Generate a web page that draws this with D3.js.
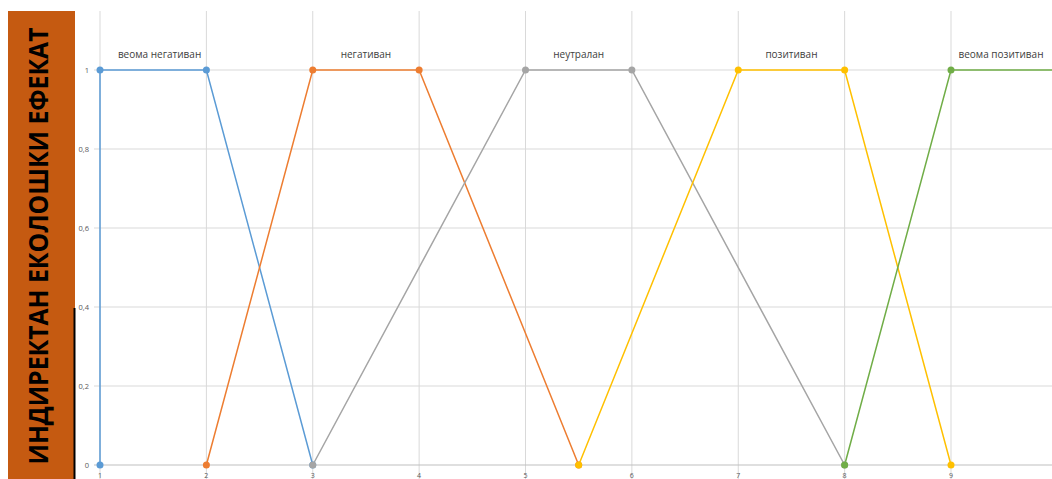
<!DOCTYPE html>
<html><head><meta charset="utf-8">
<script src="https://cdn.jsdelivr.net/npm/d3@7"></script>
<style>body{margin:0;background:#fff;overflow:hidden}svg{display:block}</style>
</head><body>
<svg id="c" width="1052" height="479"></svg>
<script>
const title = "ИНДИРЕКТАН ЕКОЛОШКИ ЕФЕКАТ";
const xTicks = [1,2,3,4,5,6,7,8,9];
const yTicks = [0,0.2,0.4,0.6,0.8,1];
const seriesNames = ["веома негативан","негативан","неутралан","позитиван","веома позитиван"];
const seriesColors = ["#5B9BD5","#ED7D31","#A5A5A5","#FFC000","#70AD47"];
const xVeomaNeg = [1,1,2,3], yVeomaNeg = [0,1,1,0];
const xNeg = [2,3,4,5.5], yNeg = [0,1,1,0];
const xNeut = [3,5,6,8], yNeut = [0,1,1,0];
const xPoz = [5.5,7,8,9], yPoz = [0,1,1,0];
const xVeomaPoz = [8,9,10], yVeomaPoz = [0,1,1];
const labelX = [1.56,3.5,5.5,7.5,9.47];

const svg = d3.select("#c");
const x = d3.scaleLinear().domain([1,9]).range([100,951]);
const y = d3.scaleLinear().domain([0,1]).range([465,70]);
const g = svg.append("g");

svg.append("defs").append("clipPath").attr("id","pc").append("rect")
  .attr("x",90).attr("y",11).attr("width",962).attr("height",468);

g.append("g").selectAll("line").data(yTicks.filter(d=>d>0)).join("line")
  .attr("x1",94).attr("x2",1052).attr("y1",d=>y(d)).attr("y2",d=>y(d))
  .attr("stroke","#d9d9d9").attr("stroke-width",1);
g.append("g").selectAll("line").data(xTicks).join("line")
  .attr("x1",d=>x(d)).attr("x2",d=>x(d)).attr("y1",11).attr("y2",479)
  .attr("stroke","#d9d9d9").attr("stroke-width",1);
g.append("line").attr("x1",94).attr("x2",1052).attr("y1",y(0)).attr("y2",y(0))
  .attr("stroke","#bfbfbf").attr("stroke-width",1.2);

g.append("g").selectAll("text").data(yTicks).join("text")
  .attr("x",89).attr("y",d=>y(d)+2.5).attr("text-anchor","end")
  .attr("font-family","Open Sans, sans-serif").attr("font-size",7.5).attr("fill","#595959")
  .text(d=>d===0?"0":d===1?"1":String(d).replace(".",","));
g.append("g").selectAll("text").data(xTicks).join("text")
  .attr("x",d=>x(d)).attr("y",478).attr("text-anchor","middle")
  .attr("font-family","Open Sans, sans-serif").attr("font-size",7).attr("fill","#595959")
  .text(d=>d);

const series = [
  [xVeomaNeg,yVeomaNeg],[xNeg,yNeg],[xNeut,yNeut],[xPoz,yPoz],[xVeomaPoz,yVeomaPoz]
].map((s,i)=>({pts:s[0].map((xv,j)=>[xv,s[1][j]]),color:seriesColors[i],name:seriesNames[i],lx:labelX[i]}));

const line = d3.line().x(d=>x(d[0])).y(d=>y(d[1]));
const plot = g.append("g").attr("clip-path","url(#pc)");
series.forEach(s=>{
  plot.append("path").attr("d",line(s.pts)).attr("fill","none")
    .attr("stroke",s.color).attr("stroke-width",1.5);
});
series.forEach(s=>{
  plot.append("g").selectAll("circle").data(s.pts).join("circle")
    .attr("cx",d=>x(d[0])).attr("cy",d=>y(d[1])).attr("r",3.5).attr("fill",s.color);
});
g.append("g").selectAll("text").data(series).join("text")
  .attr("x",d=>x(d.lx)).attr("y",y(1)-12).attr("text-anchor","middle")
  .attr("font-family","Open Sans, sans-serif").attr("font-size",10).attr("fill","#404040")
  .text(d=>d.name);

svg.append("rect").attr("x",8).attr("y",11).attr("width",67).attr("height",468).attr("fill","#C55A11");
svg.append("line").attr("x1",74.5).attr("x2",74.5).attr("y1",308).attr("y2",479).attr("stroke","#000").attr("stroke-width",2);
svg.append("text").attr("transform","translate(48,246) rotate(-90)")
  .attr("text-anchor","middle").attr("font-family","Open Sans, sans-serif").attr("font-weight","bold")
  .attr("font-size",26).attr("fill","#000")
  .attr("textLength",437).attr("lengthAdjust","spacingAndGlyphs")
  .text(title);
</script>
</body></html>
